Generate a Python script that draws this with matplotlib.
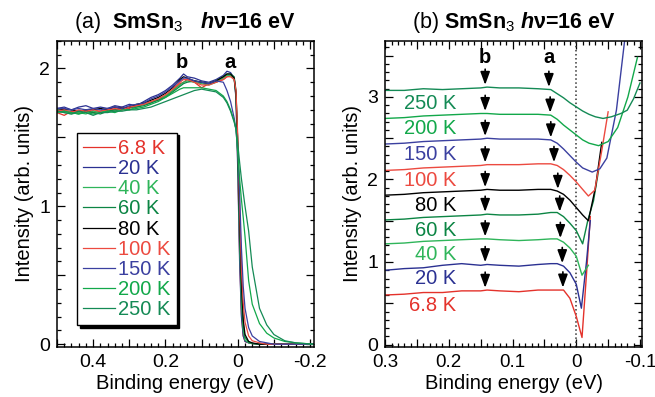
import numpy as np
import matplotlib
matplotlib.use('Agg')
import matplotlib.pyplot as plt
from matplotlib.ticker import MultipleLocator, FuncFormatter

plt.rcParams['font.family'] = 'Liberation Sans'
plt.rcParams['mathtext.fontset'] = 'custom'
plt.rcParams['mathtext.rm'] = 'Liberation Sans'
plt.rcParams['mathtext.it'] = 'Liberation Sans:italic'
plt.rcParams['mathtext.bf'] = 'Liberation Sans:bold'
plt.rcParams['mathtext.bfit'] = 'Liberation Sans:italic:bold'

temps = ['6.8 K', '20 K', '40 K', '60 K', '80 K', '100 K', '150 K', '200 K', '250 K']
colors = ['#e4322b', '#2b3192', '#2fb55a', '#0c8544', '#000000',
          '#ec4a40', '#3b40a0', '#12a84a', '#148a55']

# ---- panel (a): raw spectra, binding energy (eV)
e_a = [0.50, 0.48, 0.46, 0.44, 0.42, 0.40, 0.38, 0.36, 0.34, 0.32, 0.30, 0.28,
       0.26, 0.24, 0.22, 0.20, 0.18, 0.16, 0.15, 0.14, 0.12, 0.10, 0.08, 0.06,
       0.04, 0.03, 0.02, 0.01, 0.005, 0.0, -0.005, -0.01, -0.015, -0.02, -0.03,
       -0.04, -0.06, -0.08, -0.10, -0.13, -0.16, -0.21]
int_a = [
    # 6.8 K
    [1.68, 1.66, 1.69, 1.68, 1.70, 1.68, 1.69, 1.71, 1.70, 1.72, 1.71, 1.73,
     1.74, 1.76, 1.77, 1.80, 1.84, 1.89, 1.90, 1.92, 1.90, 1.86, 1.89, 1.90,
     1.92, 1.94, 1.95, 1.93, 1.80, 1.30, 0.65, 0.22, 0.06, 0.02, 0.01,
     0.005, 0.0, 0.0, 0.0, 0.0, 0.0, 0.0],
    # 20 K
    [1.71, 1.72, 1.70, 1.72, 1.73, 1.71, 1.72, 1.71, 1.73, 1.72, 1.74, 1.73,
     1.76, 1.79, 1.81, 1.84, 1.88, 1.93, 1.96, 1.94, 1.93, 1.91, 1.90, 1.92,
     1.95, 1.98, 1.97, 1.93, 1.78, 1.25, 0.60, 0.20, 0.06, 0.02, 0.01,
     0.005, 0.0, 0.0, 0.0, 0.0, 0.0, 0.0],
    # 40 K
    [1.69, 1.68, 1.67, 1.68, 1.67, 1.69, 1.68, 1.70, 1.69, 1.71, 1.70, 1.72,
     1.74, 1.75, 1.78, 1.80, 1.84, 1.88, 1.90, 1.91, 1.90, 1.89, 1.88, 1.90,
     1.93, 1.95, 1.95, 1.92, 1.80, 1.35, 0.75, 0.30, 0.10, 0.03, 0.01,
     0.005, 0.0, 0.0, 0.0, 0.0, 0.0, 0.0],
    # 60 K
    [1.70, 1.69, 1.68, 1.67, 1.69, 1.68, 1.67, 1.69, 1.70, 1.70, 1.72, 1.72,
     1.73, 1.75, 1.77, 1.79, 1.83, 1.87, 1.89, 1.90, 1.91, 1.90, 1.89, 1.91,
     1.94, 1.96, 1.96, 1.94, 1.84, 1.45, 0.85, 0.40, 0.14, 0.05, 0.015,
     0.005, 0.0, 0.0, 0.0, 0.0, 0.0, 0.0],
    # 80 K
    [1.71, 1.70, 1.70, 1.69, 1.70, 1.70, 1.71, 1.70, 1.72, 1.71, 1.72, 1.74,
     1.75, 1.77, 1.79, 1.82, 1.86, 1.92, 1.94, 1.93, 1.91, 1.90, 1.89, 1.91,
     1.94, 1.96, 1.96, 1.93, 1.82, 1.45, 0.90, 0.45, 0.18, 0.07, 0.02,
     0.01, 0.0, 0.0, 0.0, 0.0, 0.0, 0.0],
    # 100 K
    [1.69, 1.70, 1.68, 1.70, 1.69, 1.70, 1.69, 1.70, 1.71, 1.70, 1.72, 1.73,
     1.74, 1.76, 1.78, 1.81, 1.85, 1.90, 1.92, 1.92, 1.90, 1.88, 1.88, 1.90,
     1.92, 1.94, 1.94, 1.92, 1.84, 1.50, 1.00, 0.55, 0.30, 0.16, 0.06,
     0.025, 0.01, 0.0, 0.0, 0.0, 0.0, 0.0],
    # 150 K
    [1.71, 1.71, 1.70, 1.71, 1.70, 1.71, 1.70, 1.71, 1.72, 1.71, 1.73, 1.74,
     1.75, 1.78, 1.80, 1.83, 1.87, 1.91, 1.93, 1.93, 1.91, 1.90, 1.89, 1.91,
     1.90, 1.84, 1.76, 1.64, 1.55, 1.40, 1.10, 0.70, 0.42, 0.26, 0.12,
     0.06, 0.02, 0.01, 0.0, 0.0, 0.0, 0.0],
    # 200 K
    [1.68, 1.69, 1.68, 1.67, 1.68, 1.67, 1.68, 1.69, 1.68, 1.70, 1.70, 1.71,
     1.72, 1.74, 1.76, 1.79, 1.82, 1.85, 1.86, 1.86, 1.86, 1.86, 1.85, 1.84,
     1.80, 1.76, 1.70, 1.62, 1.56, 1.38, 1.20, 1.05, 0.92, 0.78, 0.46,
     0.29, 0.15, 0.08, 0.045, 0.02, 0.01, 0.0],
    # 250 K
    [1.69, 1.68, 1.67, 1.69, 1.68, 1.66, 1.68, 1.68, 1.69, 1.69, 1.70, 1.70,
     1.71, 1.72, 1.74, 1.76, 1.78, 1.80, 1.81, 1.82, 1.84, 1.85, 1.84, 1.83,
     1.79, 1.75, 1.69, 1.61, 1.56, 1.45, 1.32, 1.20, 1.10, 1.00, 0.82,
     0.56, 0.26, 0.14, 0.07, 0.025, 0.01, 0.0],
]
peak_labels_a = ['b', 'a']
peak_e_a = [0.155, 0.022]

# ---- panel (b): FD-divided spectra, offset
e_b = [0.30, 0.27, 0.24, 0.21, 0.18, 0.15, 0.14, 0.12, 0.09, 0.06, 0.04, 0.03,
       0.02, 0.01, 0.0]
flat_b = [
    [0.60, 0.61, 0.63, 0.63, 0.65, 0.65, 0.66, 0.65, 0.64, 0.66, 0.66, 0.66, 0.66, 0.56, 0.34],
    [0.90, 0.92, 0.93, 0.96, 0.98, 0.96, 0.97, 0.96, 0.95, 0.97, 0.98, 0.98, 0.95, 0.87, 0.73],
    [1.22, 1.23, 1.25, 1.26, 1.27, 1.28, 1.28, 1.27, 1.26, 1.27, 1.28, 1.28, 1.24, 1.17, 1.07],
    [1.51, 1.52, 1.54, 1.55, 1.56, 1.57, 1.58, 1.57, 1.57, 1.58, 1.60, 1.60, 1.55, 1.47, 1.38],
    [1.81, 1.82, 1.84, 1.85, 1.86, 1.87, 1.88, 1.87, 1.87, 1.88, 1.88, 1.86, 1.82, 1.75, 1.66],
    [2.11, 2.12, 2.14, 2.15, 2.16, 2.17, 2.18, 2.18, 2.18, 2.19, 2.19, 2.17, 2.12, 2.05, 1.97],
    [2.43, 2.44, 2.46, 2.47, 2.48, 2.49, 2.50, 2.49, 2.49, 2.49, 2.48, 2.44, 2.37, 2.29, 2.21],
    [2.74, 2.75, 2.77, 2.78, 2.79, 2.80, 2.80, 2.79, 2.79, 2.79, 2.78, 2.73, 2.66, 2.60, 2.54],
    [3.08, 3.08, 3.10, 3.09, 3.10, 3.11, 3.12, 3.11, 3.11, 3.10, 3.09, 3.04, 2.99, 2.93, 2.88],
]
tail_e_b = [
    [-0.009, -0.016, -0.022],
    [-0.008, -0.016, -0.022],
    [-0.009, -0.019],
    [-0.010, -0.018, -0.027, -0.035],
    [-0.010, -0.019, -0.030, -0.040],
    [-0.010, -0.019, -0.029, -0.040, -0.050],
    [-0.010, -0.025, -0.037, -0.048, -0.063, -0.076],
    [-0.010, -0.020, -0.035, -0.050, -0.065, -0.081, -0.096],
    [-0.010, -0.020, -0.030, -0.042, -0.055, -0.070, -0.080, -0.090, -0.100],
]
tail_i_b = [
    [0.085, 0.85, 1.55],
    [0.44, 1.00, 1.50],
    [0.84, 0.96],
    [1.22, 1.50, 1.74, 2.11],
    [1.57, 1.50, 1.90, 2.45],
    [1.88, 1.80, 1.87, 2.35, 2.82],
    [2.14, 2.09, 2.13, 2.26, 2.84, 3.69],
    [2.48, 2.44, 2.41, 2.46, 2.63, 3.00, 3.48],
    [2.83, 2.79, 2.76, 2.74, 2.76, 2.80, 2.84, 2.98, 3.17],
]
arrow_b_e = 0.143
arrow_a_e = [0.021, 0.022, 0.025, 0.026, 0.029, 0.035, 0.040, 0.041, 0.043]
peak_e_b = [0.143, 0.043]

fig = plt.figure(figsize=(6.55, 3.97), dpi=100)
ax1 = fig.add_axes([0.087, 0.126, 0.392, 0.771])
ax2 = fig.add_axes([0.588, 0.126, 0.392, 0.771])

for i in range(len(temps)):
    ax1.plot(e_a, int_a[i], color=colors[i], lw=0.9, label=temps[i])

ax1.set_xlim(0.5, -0.21)
ax1.set_ylim(-0.02, 2.2)
for lab, e in zip(peak_labels_a, peak_e_a):
    ax1.text(e, 2.04, lab, ha='center', va='center', fontsize=14.5, fontweight='bold')

leg = ax1.legend(loc='upper left', bbox_to_anchor=(0.078, 0.70), borderaxespad=0,
                 fontsize=14.5, labelcolor='linecolor', handlelength=1.6,
                 handletextpad=0.15, labelspacing=0.06, borderpad=0.3,
                 fancybox=False, edgecolor='k', framealpha=1,
                 shadow={'color': 'k', 'alpha': 1})
leg.get_frame().set_linewidth(1.0)

# panel (b)
ax2.axvline(0, color='#333333', ls=':', lw=1.1)
for i in range(len(temps)):
    e = e_b + tail_e_b[i]
    y = flat_b[i] + tail_i_b[i]
    ax2.plot(e, y, color=colors[i], lw=1.0)
    # label under curve at left
    yl = np.interp(0.19, e_b[::-1], flat_b[i][::-1]) - 0.17
    ax2.text(0.188, yl, temps[i], color=colors[i], fontsize=14.5, ha='right', va='center')
    for ea in (arrow_b_e, arrow_a_e[i]):
        tip = np.interp(ea, e_b[::-1], flat_b[i][::-1]) + 0.03
        ax2.annotate('', xy=(ea, tip), xytext=(ea, tip + 0.19),
                     arrowprops=dict(arrowstyle='-|>,head_length=0.6,head_width=0.22',
                                     color='k', lw=1.2, mutation_scale=13,
                                     shrinkA=0, shrinkB=0))
for lab, e in zip(peak_labels_a, peak_e_b):
    ax2.text(e, 3.48, lab, ha='center', va='center', fontsize=14.5, fontweight='bold')

ax2.set_xlim(0.3, -0.103)
ax2.set_ylim(-0.03, 3.68)


def int_only(v, pos):
    if abs(v - round(v)) < 1e-6:
        return '%d' % round(v)
    return ''


def every(step):
    def f(v, pos):
        if abs(v / step - round(v / step)) < 1e-6:
            s = '%g' % round(v, 3)
            return '0' if s in ('0', '-0') else s
        return ''
    return f


for ax, xmaj, xmin, xlab in ((ax1, 0.1, 0.02, 0.2), (ax2, 0.05, 0.01, 0.1)):
    ax.xaxis.set_major_locator(MultipleLocator(xmaj))
    ax.xaxis.set_minor_locator(MultipleLocator(xmin))
    ax.xaxis.set_major_formatter(FuncFormatter(every(xlab)))
    ax.yaxis.set_major_locator(MultipleLocator(0.5))
    ax.yaxis.set_minor_locator(MultipleLocator(0.1))
    ax.yaxis.set_major_formatter(FuncFormatter(int_only))
    ax.tick_params(which='both', direction='in', top=True, right=True,
                   labelsize=14, width=0.9, pad=5)
    ax.tick_params(which='major', length=6)
    ax.tick_params(which='minor', length=3)
    for s in ax.spines.values():
        s.set_linewidth(1.1)
    ax.set_xlabel('Binding energy (eV)', fontsize=14.5, labelpad=2)
    ax.set_ylabel('Intensity (arb. units)', fontsize=14.5, labelpad=4)

ax2.tick_params(axis='x', labelsize=13.5)

ax1.set_title(r'$\mathrm{(a)}$  SmSn$_3$   $\mathbfit{h}\mathbf{\nu}$=16 eV',
              fontsize=15.5, fontweight='bold', pad=9)
ax2.set_title(r'$\mathrm{(b)}$ SmSn$_3$ $\mathbfit{h}\mathbf{\nu}$=16 eV',
              fontsize=15.5, fontweight='bold', pad=9)

fig.savefig('out.png', dpi=100)
